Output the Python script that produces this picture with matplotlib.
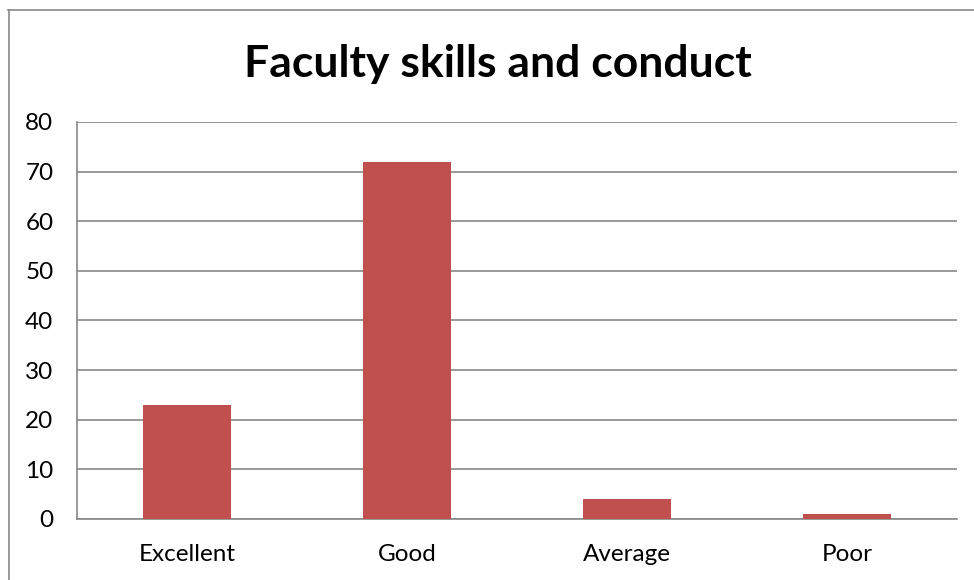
import matplotlib.pyplot as plt
from matplotlib.lines import Line2D

# Chart data
categories = ["Excellent", "Good", "Average", "Poor"]
values = [23, 72, 4, 1]
y_ticks = [0, 10, 20, 30, 40, 50, 60, 70, 80]

plt.rcParams['font.family'] = ['Lato', 'DejaVu Sans']

fig = plt.figure(figsize=(9.74, 5.8), dpi=100)
ax = fig.add_axes([0.0791, 0.1052, 0.9034, 0.6845])

# Bars
ax.bar(range(len(categories)), values, width=0.4, color='#C0504D', zorder=3)

# Axes styling
ax.set_xlim(-0.5, len(categories) - 0.5)
ax.set_ylim(0, 80)
ax.set_yticks(y_ticks)
ax.set_xticks(range(len(categories)))
ax.set_xticklabels(categories)
ax.yaxis.grid(True, color='#888888', linewidth=1.2, zorder=0)
ax.set_axisbelow(True)
for side in ['top', 'right']:
    ax.spines[side].set_visible(False)
for side in ['left', 'bottom']:
    ax.spines[side].set_color('#888888')
    ax.spines[side].set_linewidth(1.2)
ax.tick_params(axis='both', length=0, labelsize=17.5, colors='black')
ax.tick_params(axis='y', pad=17)
ax.tick_params(axis='x', pad=18)

# Title
fig.text(0.511, 0.89, "Faculty skills and conduct", ha='center', va='center',
         fontsize=32, fontweight='bold')

# Outer chart frame (left and top edges visible)
fig.add_artist(Line2D([8.5 / 974, 8.5 / 974], [0, 570 / 580], color='#888888', linewidth=1.2))
fig.add_artist(Line2D([8 / 974, 1], [570 / 580, 570 / 580], color='#888888', linewidth=1.2))

fig.savefig('out.png', dpi=100)
